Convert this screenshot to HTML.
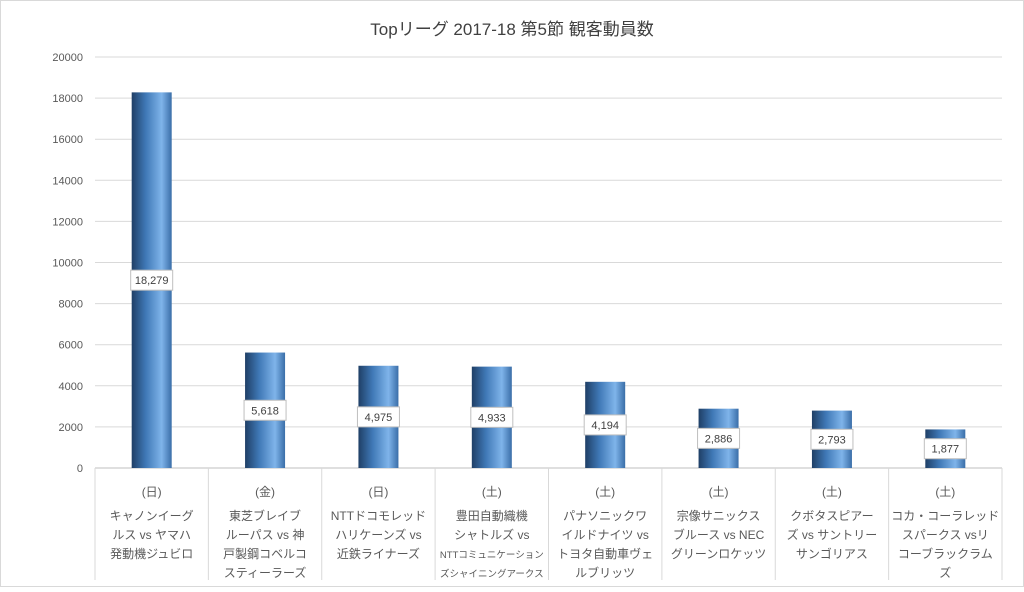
<!DOCTYPE html>
<html><head><meta charset="utf-8">
<style>
body{margin:0;background:#fff;}
svg text{font-family:"Liberation Sans","Noto Sans CJK JP",sans-serif;}
</style></head>
<body>
<svg id="c" width="1024" height="587" xmlns="http://www.w3.org/2000/svg">
<defs>
<linearGradient id="g" x1="0" x2="1" y1="0" y2="0">
<stop offset="0" stop-color="#1f3f66"/>
<stop offset="0.35" stop-color="#3f78b6"/>
<stop offset="0.75" stop-color="#7fb4ea"/>
<stop offset="1" stop-color="#3a6ea8"/>
</linearGradient>
</defs>
<rect x="0.5" y="0.5" width="1023" height="586" fill="#fff" stroke="#d9d9d9"/>
<text x="512" y="35" text-anchor="middle" font-size="17" fill="#404040">Topリーグ 2017-18 第5節 観客動員数</text>
<g id="grid"></g><g id="bars"></g><g id="xl"></g>
</svg>
<script>
const days=["(日)","(金)","(日)","(土)","(土)","(土)","(土)","(土)"];
const names=[["キャノンイーグ","ルス vs ヤマハ","発動機ジュビロ"],["東芝ブレイブ","ルーパス vs 神","戸製鋼コベルコ","スティーラーズ"],["NTTドコモレッド","ハリケーンズ vs","近鉄ライナーズ"],["豊田自動織機","シャトルズ vs","NTTコミュニケーション","ズシャイニングアークス"],["パナソニックワ","イルドナイツ vs","トヨタ自動車ヴェ","ルブリッツ"],["宗像サニックス","ブルース vs NEC","グリーンロケッツ"],["クボタスピアー","ズ vs サントリー","サンゴリアス"],["コカ・コーラレッド","スパークス vsリ","コーブラックラム","ズ"]];
const values=[18279,5618,4975,4933,4194,2886,2793,1877];
const ticks=[0,2000,4000,6000,8000,10000,12000,14000,16000,18000,20000];
const NS="http://www.w3.org/2000/svg";
const L=95,R=1002,Y0=468,Y1=57,MAX=20000;
const y=v=>Y0-(v/MAX)*(Y0-Y1);
const cw=(R-L)/values.length;
const x=i=>L+cw*i;
function mk(t,a,p){const e=document.createElementNS(NS,t);for(const k in a)e.setAttribute(k,a[k]);p.appendChild(e);return e;}
const G=document.getElementById('grid'),B=document.getElementById('bars'),X=document.getElementById('xl');
ticks.forEach(t=>{
 const l=mk('line',{x1:L,x2:R,y1:y(t),y2:y(t),stroke:t===0?'#bfbfbf':'#d9d9d9'},G);
 
 
 const tx=mk('text',{x:L-12,y:y(t)+4,'text-anchor':'end','font-size':11,fill:'#595959'},G);
 tx.textContent=t;
 
 
});
for(let i=0;i<=values.length;i++){
 const l=mk('line',{x1:x(i),x2:x(i),y1:Y0,y2:580,stroke:'#d9d9d9'},G);
 
 
}
values.forEach((v,i)=>{
 const cx=x(i)+cw/2,bw=40;
 const r=mk('rect',{x:cx-bw/2,y:y(v),width:bw,height:Y0-y(v),fill:'url(#g)'},B);
 
 
 const s=v.toLocaleString('en-US');
 const my=(y(v)+Y0)/2;
 const bx=mk('rect',{x:cx-21,y:my-10,width:42,height:20,fill:'#fff',stroke:'#bfbfbf'},B);
 
 
 const t=mk('text',{x:cx,y:my+4,'text-anchor':'middle','font-size':11,fill:'#404040'},B);
 t.textContent=s;
 
 
 const d=mk('text',{x:cx,y:496,'text-anchor':'middle','font-size':12,fill:'#595959'},X);
 d.textContent=days[i];
 
 
 names[i].forEach((n,j)=>{
  const fs=(i===3&&j>=2)?9.5:12;
  const tt=mk('text',{x:cx,y:520+j*19,'text-anchor':'middle','font-size':fs,fill:'#595959'},X);
  tt.textContent=n;
  
  
 });
});
</script>
</body></html>
